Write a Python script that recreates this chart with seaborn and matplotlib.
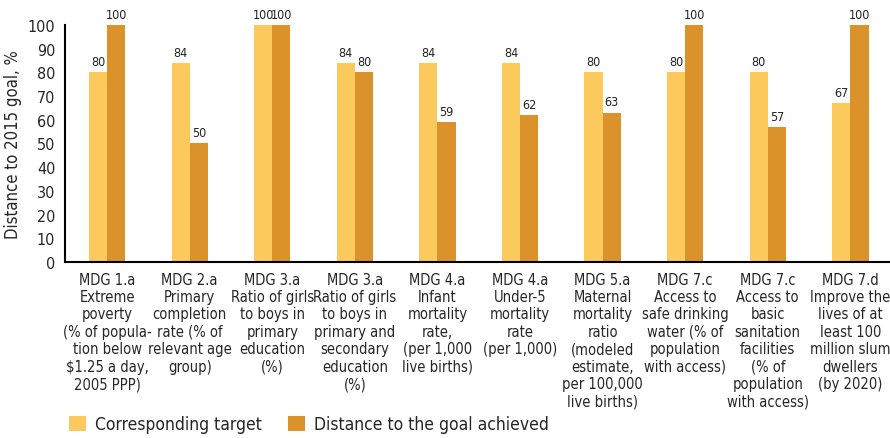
import pandas as pd
import numpy as np
import matplotlib.pyplot as plt
import seaborn as sns
from matplotlib.patches import Patch

categories = [
    "MDG 1.a\nExtreme\npoverty\n(% of popula-\ntion below\n$1.25 a day,\n2005 PPP)",
    "MDG 2.a\nPrimary\ncompletion\nrate (% of\nrelevant age\ngroup)",
    "MDG 3.a\nRatio of girls\nto boys in\nprimary\neducation\n(%)",
    "MDG 3.a\nRatio of girls\nto boys in\nprimary and\nsecondary\neducation\n(%)",
    "MDG 4.a\nInfant\nmortality\nrate,\n(per 1,000\nlive births)",
    "MDG 4.a\nUnder-5\nmortality\nrate\n(per 1,000)",
    "MDG 5.a\nMaternal\nmortality\nratio\n(modeled\nestimate,\nper 100,000\nlive births)",
    "MDG 7.c\nAccess to\nsafe drinking\nwater (% of\npopulation\nwith access)",
    "MDG 7.c\nAccess to\nbasic\nsanitation\nfacilities\n(% of\npopulation\nwith access)",
    "MDG 7.d\nImprove the\nlives of at\nleast 100\nmillion slum\ndwellers\n(by 2020)",
]
target = [80, 84, 100, 84, 84, 84, 80, 80, 80, 67]
achieved = [100, 50, 100, 80, 59, 62, 63, 100, 57, 100]
series = ["Corresponding target", "Distance to the goal achieved"]
colors = ["#FBC95C", "#DB922B"]

df = pd.DataFrame({
    "cat": categories * 2,
    "series": [series[0]] * len(categories) + [series[1]] * len(categories),
    "value": target + achieved,
})

sns.set_style("white")
plt.rcParams["font.family"] = ["DejaVu Sans"]
plt.rcParams["font.stretch"] = "condensed"

fig = plt.figure(figsize=(8.9, 4.39), dpi=100)
ax = fig.add_axes([65 / 890, 0.401, 0.94, 0.54])

sns.barplot(data=df, x="cat", y="value", hue="series", palette=colors,
            width=0.44, gap=0, saturation=1, linewidth=0, ax=ax, legend=False)

for cont in ax.containers:
    ax.bar_label(cont, fmt="%d", padding=3, fontsize=9, color="#222222")

ax.set_xlim(-0.51, len(categories) - 0.38)
ax.set_ylim(0, 100)
ax.set_yticks(range(0, 101, 10))
ax.tick_params(axis="y", labelsize=11.5, length=5, width=1.2, direction="out", pad=2)
ax.set_xticks(range(len(categories)))
ax.set_xticklabels(categories, fontsize=10.5, linespacing=1.2)
ax.tick_params(axis="x", length=0, pad=7)
ax.set_xticks(np.arange(0.5, len(categories) - 0.5, 1), minor=True)
ax.tick_params(axis="x", which="minor", direction="in", length=7, width=1.5, color="black")

for s in ["top", "right"]:
    ax.spines[s].set_visible(False)
for s in ["left", "bottom"]:
    ax.spines[s].set_color("black")
    ax.spines[s].set_linewidth(1.5)

ax.set_xlabel("")
ax.set_ylabel("Distance to 2015 goal, %", fontsize=12, labelpad=4)

handles = [Patch(facecolor=c, edgecolor="none") for c in colors]
fig.legend(handles, series, loc="lower left", bbox_to_anchor=(0.06, -0.025),
           ncol=2, frameon=False, fontsize=12.5, handlelength=1.0, handleheight=1.0,
           handletextpad=0.5, columnspacing=1.5)

fig.savefig("out.png", dpi=100)
